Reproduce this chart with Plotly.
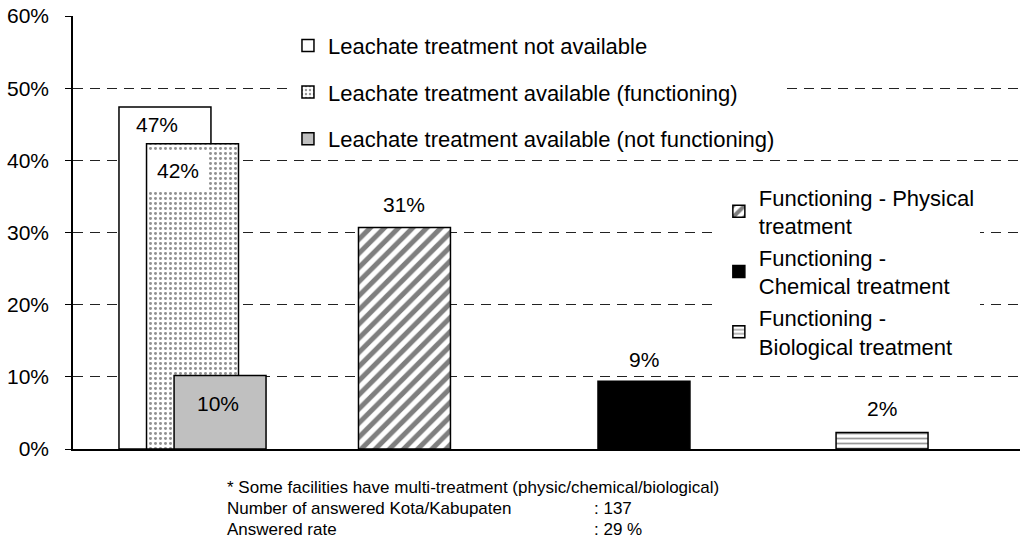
import plotly.graph_objects as go

# ---- data ----
series_names = [
    "Leachate treatment not available",
    "Leachate treatment available (functioning)",
    "Leachate treatment available (not functioning)",
    "Functioning - Physical<br>treatment",
    "Functioning -<br>Chemical treatment",
    "Functioning -<br>Biological treatment",
]
groups = ["Availability", "Physical", "Chemical", "Biological"]
series_group = ["Availability", "Availability", "Availability", "Physical", "Chemical", "Biological"]
values = [0.474, 0.423, 0.102, 0.307, 0.094, 0.023]
ytick_vals = [0, 0.1, 0.2, 0.3, 0.4, 0.5, 0.6]

footnote_lines = [
    "* Some facilities have multi-treatment (physic/chemical/biological)",
    "Number of answered Kota/Kabupaten",
    "Answered rate",
]
footnote_values = ["", ": 137", ": 29 %"]

# ---- styles ----
FONT = "Arial, 'Liberation Sans', sans-serif"
fills = ["white", "white", "#c0c0c0", "white", "black", "white"]
patterns = [
    dict(shape=""),
    dict(shape=".", fgcolor="#222222", bgcolor="white", size=5, solidity=0.28),
    dict(shape=""),
    dict(shape="/", fgcolor="black", bgcolor="white", size=10, solidity=0.5),
    dict(shape=""),
    dict(shape="-", fgcolor="#333333", bgcolor="white", size=5, solidity=0.35),
]
offsets = [-0.19, -0.075, 0.04, -0.19, -0.19, -0.196]
bar_width = 0.384
legend_ids = ["legend", "legend", "legend", "legend2", "legend2", "legend2"]

fig = go.Figure()
for i, name in enumerate(series_names):
    fig.add_trace(go.Bar(
        x=[series_group[i]], y=[values[i]], name=name,
        width=bar_width, offset=offsets[i],
        marker=dict(color=fills[i], line=dict(color="black", width=1.5), pattern=patterns[i]),
        legend=legend_ids[i], legendgroup="g%d" % i,
        hoverinfo="skip",
    ))

# value labels (positions relative to bar tops)
label_shift = [(-8, -18), (-15, -27), (-2, -28), (0, 23), (0, 22), (0, 24)]
for i, v in enumerate(values):
    dx, dy = label_shift[i]
    bar_center = offsets[i] + bar_width / 2
    fig.add_annotation(
        x=series_group[i], y=v, xref="x", yref="y",
        text="%d%%" % round(v * 100),
        showarrow=False, xshift=dx + bar_center * 239.5, yshift=dy,
        font=dict(size=21, color="black", family=FONT),
        bgcolor="white" if i == 1 else None, borderpad=8 if i == 1 else 0,
    )

# footnote
for k, line in enumerate(footnote_lines):
    fig.add_annotation(x=0.16, y=-0.088 - k * 0.049, xref="paper", yref="paper",
                       text=line, showarrow=False, xanchor="left", yanchor="middle",
                       font=dict(size=17, color="black", family=FONT))
    if footnote_values[k]:
        fig.add_annotation(x=0.548, y=-0.088 - k * 0.049, xref="paper", yref="paper",
                           text=footnote_values[k], showarrow=False, xanchor="left", yanchor="middle",
                           font=dict(size=17, color="black", family=FONT))

fig.update_layout(
    width=1021, height=546,
    margin=dict(l=73, r=1, t=16, b=97),
    paper_bgcolor="white", plot_bgcolor="white",
    barmode="overlay",
    font=dict(family=FONT, size=21, color="black"),
    showlegend=True,
    legend=dict(x=0.227, y=0.98, xanchor="left", yanchor="top",
                bgcolor="white", font=dict(size=22, family=FONT),
                traceorder="grouped", tracegroupgap=15, itemwidth=30),
    legend2=dict(x=0.682, y=0.63, xanchor="left", yanchor="top",
                 bgcolor="white", font=dict(size=22, family=FONT),
                 traceorder="grouped", tracegroupgap=0, itemwidth=30),
    xaxis=dict(type="category", categoryorder="array", categoryarray=groups,
               range=[-0.382, 3.572], showticklabels=False, ticks="",
               showgrid=False, showline=True, linecolor="black", linewidth=1.5,
               zeroline=False),
    yaxis=dict(range=[0, 0.6], tickvals=ytick_vals, tickformat=".0%",
               showgrid=True, gridcolor="#222222", gridwidth=1, griddash="10px,7px",
               showline=True, linecolor="black", linewidth=1.5,
               ticks="outside", ticklen=6, tickcolor="black", tickwidth=1,
               ticklabelstandoff=12,
               zeroline=False, tickfont=dict(size=21, family=FONT)),
)

fig.write_html("out.html",
               config={"displayModeBar": False},
               post_script="document.body.style.margin='0';document.body.style.padding='0';")
